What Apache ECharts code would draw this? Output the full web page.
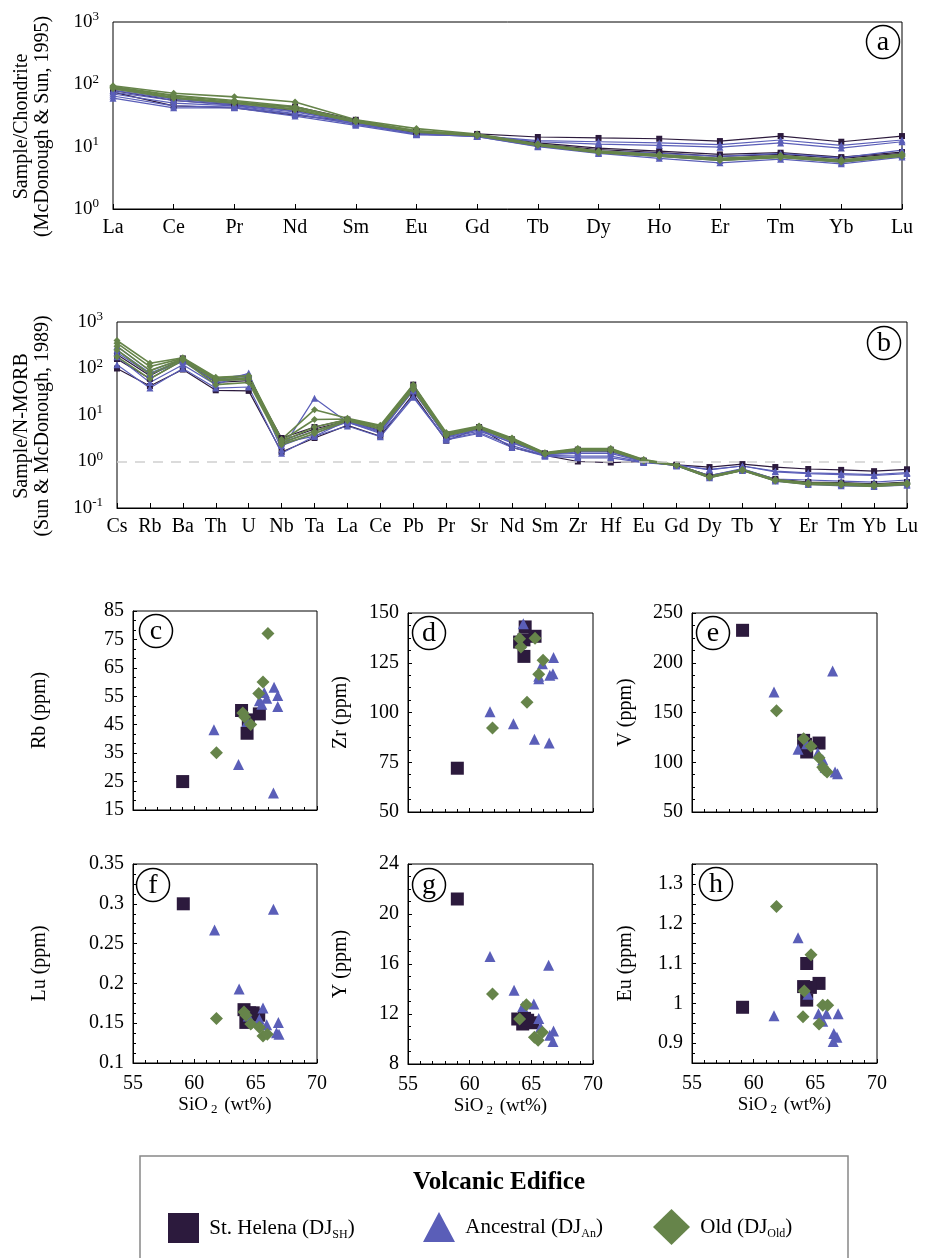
<!DOCTYPE html>
<html>
<head>
<meta charset="utf-8">
<script src="https://cdn.jsdelivr.net/npm/echarts@6/dist/echarts.min.js"></script>
<style>
  html, body { margin: 0; padding: 0; background: #fff; }
  #chart { width: 930px; height: 1258px; }
</style>
</head>
<body>
<div id="chart"></div>
<script>
// ---------- data ----------
const reeCats = ["La", "Ce", "Pr", "Nd", "Sm", "Eu", "Gd", "Tb", "Dy", "Ho", "Er", "Tm", "Yb", "Lu"];
const morbCats = ["Cs", "Rb", "Ba", "Th", "U", "Nb", "Ta", "La", "Ce", "Pb", "Pr", "Sr", "Nd", "Sm",
  "Zr", "Hf", "Eu", "Gd", "Dy", "Tb", "Y", "Er", "Tm", "Yb", "Lu"];

// chondrite normalised REE (panel a)
const reeSH = [
  [75, 45, 42, 32, 25, 17, 16, 14.3, 13.8, 13.4, 12.3, 14.8, 12, 14.8],
  [85, 60, 50, 44, 27, 17.5, 15.5, 11.5, 9.5, 8.5, 7.5, 8, 6.8, 8.2],
  [80, 55, 47, 38, 25, 16.5, 15, 11, 9, 8, 7, 7.5, 6.5, 7.8]
];
const reeAn = [
  [60, 42, 42, 31, 22, 15.5, 15, 12.5, 12, 11.5, 10.8, 12.8, 10.5, 12.8],
  [65, 45, 43, 33, 23, 16, 15, 12, 11, 10.5, 9.8, 11.5, 9.5, 12],
  [70, 50, 45, 34, 23, 16, 15, 10.5, 8.5, 7.8, 7, 7.8, 6.6, 8.8],
  [80, 58, 48, 37, 24, 16, 14.5, 10, 7.8, 6.5, 5.5, 6.3, 5.3, 6.8],
  [75, 55, 46, 36, 24, 16, 14.5, 10.2, 8, 7, 6, 6.8, 5.6, 7.2]
];
const reeOld = [
  [95, 72, 63, 52, 27, 19.5, 16, 11, 8.5, 7.5, 6.5, 7.2, 6, 7.5],
  [90, 65, 53, 42, 26, 18, 15.5, 10.8, 8.3, 7.3, 6.3, 7, 5.9, 7.3],
  [88, 62, 51, 40, 25, 17.5, 15.2, 10.6, 8.1, 7.1, 6.1, 6.8, 5.8, 7.1],
  [85, 60, 50, 39, 25, 17, 15, 10.5, 8, 7, 6, 6.7, 5.7, 7],
  [92, 67, 55, 44, 26, 18, 15.5, 10.9, 8.4, 7.4, 6.4, 7.1, 6.1, 7.6]
];

// N-MORB normalised trace elements (panel b)
const morbSH = [
  [100, 42, 95, 34, 33, 1.6, 3.2, 6, 3.5, 28, 2.8, 5.2, 2.0, 1.35, 1.0, 0.95, 1.0, 0.85, 0.76, 0.88, 0.76, 0.69, 0.66, 0.62, 0.68],
  [200, 70, 165, 55, 60, 3.2, 5.5, 8, 5, 45, 3.8, 5.5, 3, 1.5, 1.8, 1.8, 1.05, 0.85, 0.5, 0.68, 0.42, 0.36, 0.35, 0.33, 0.36],
  [160, 60, 150, 50, 55, 2.8, 5, 7.5, 4.6, 38, 3.5, 5.3, 2.8, 1.45, 1.7, 1.65, 1.0, 0.83, 0.48, 0.66, 0.4, 0.35, 0.34, 0.32, 0.35]
];
const morbAn = [
  [120, 38, 100, 38, 40, 1.5, 3.5, 5.8, 3.4, 24, 2.9, 4.0, 2.0, 1.3, 1.2, 1.2, 0.95, 0.83, 0.68, 0.8, 0.62, 0.57, 0.55, 0.52, 0.58],
  [180, 50, 120, 45, 80, 1.8, 23, 7, 4, 25, 3.0, 4.2, 2.2, 1.35, 1.3, 1.3, 0.97, 0.85, 0.66, 0.8, 0.6, 0.55, 0.52, 0.5, 0.55],
  [250, 80, 150, 60, 75, 2.2, 4, 7, 4.2, 35, 3.2, 4.5, 2.6, 1.4, 1.6, 1.6, 1.0, 0.84, 0.5, 0.7, 0.42, 0.4, 0.38, 0.36, 0.4],
  [300, 90, 160, 58, 70, 2.5, 3.5, 7.5, 4.5, 40, 3.3, 5.0, 2.7, 1.45, 1.7, 1.7, 1.02, 0.8, 0.45, 0.64, 0.38, 0.32, 0.3, 0.29, 0.31],
  [220, 75, 140, 52, 65, 2.6, 4.5, 7.2, 4.4, 33, 3.4, 4.8, 2.5, 1.4, 1.5, 1.5, 0.98, 0.82, 0.47, 0.66, 0.4, 0.34, 0.32, 0.31, 0.33]
];
const morbOld = [
  [400, 130, 170, 65, 70, 3.0, 13, 8.5, 6, 45, 4.2, 5.8, 3.2, 1.55, 1.9, 1.9, 1.1, 0.85, 0.48, 0.67, 0.41, 0.35, 0.34, 0.32, 0.35],
  [350, 110, 165, 62, 68, 2.8, 8, 8.2, 5.8, 42, 4.0, 5.6, 3.1, 1.5, 1.85, 1.85, 1.08, 0.84, 0.47, 0.66, 0.4, 0.34, 0.33, 0.31, 0.34],
  [300, 90, 160, 58, 62, 2.7, 5.5, 8, 5.5, 40, 3.9, 5.5, 3.0, 1.5, 1.8, 1.8, 1.05, 0.83, 0.46, 0.65, 0.39, 0.33, 0.32, 0.30, 0.33],
  [250, 75, 155, 55, 58, 2.5, 4.5, 7.8, 5.2, 38, 3.8, 5.4, 2.9, 1.45, 1.75, 1.75, 1.05, 0.83, 0.46, 0.65, 0.39, 0.33, 0.32, 0.30, 0.33],
  [180, 60, 150, 45, 50, 2.3, 4, 7.5, 5, 35, 3.6, 5.2, 2.8, 1.45, 1.7, 1.7, 1.02, 0.82, 0.45, 0.64, 0.38, 0.32, 0.31, 0.29, 0.32]
];

// SiO2 (wt%) vs element (ppm), panels c-h
const rbSH = [[59.05, 25], [63.85, 50], [64.3, 42], [65.3, 48.8], [64.4, 46.7]];
const rbAn = [[61.6, 43.2], [63.6, 31], [66.45, 21], [66.5, 58.2], [66.8, 55.3], [66.8, 51.4],
  [65.3, 53.4], [65.7, 56.3], [65.9, 54.3], [65.5, 52.2], [64.3, 46.1]];
const rbOld = [[66, 77.1], [65.6, 60], [65.25, 56], [63.95, 49.1], [64.1, 47.7], [64.6, 45.1], [61.8, 35.1]];

const zrSH = [[59, 72], [64.5, 143], [64.05, 135.4], [65.3, 138.3], [64.4, 128.2], [64.4, 136.5]];
const zrAn = [[64.35, 144.6], [61.65, 100.4], [63.55, 94.4], [65.25, 86.5], [66.45, 84.7], [66.8, 127.6],
  [66.75, 119.5], [66.5, 118.7], [65.9, 124.5], [65.6, 117], [65.6, 118.2]];
const zrOld = [[64.05, 137.1], [64.15, 132.9], [65.3, 137.3], [65.95, 126.2], [65.6, 119.2], [64.65, 105.1], [61.85, 92.2]];

const vSH = [[59.1, 232.6], [64.05, 122], [64.3, 110.3], [65.3, 119.3], [64.2, 118]];
const vAn = [[61.65, 170.6], [66.4, 191.7], [63.6, 113], [65.2, 109.3], [65.6, 102.6], [66.6, 90.2],
  [66.8, 88.5], [65.8, 95], [64.3, 118.5]];
const vOld = [[61.85, 151.8], [64.05, 123.5], [64.65, 116.2], [65.3, 104.4], [65.6, 95], [65.95, 90.2], [65.75, 92.5]];

const luSH = [[59.1, 0.300], [64.05, 0.167], [64.5, 0.163], [65.25, 0.160], [64.2, 0.151], [64.8, 0.163]];
const luAn = [[61.65, 0.267], [66.45, 0.293], [63.65, 0.193], [65.6, 0.169], [65.9, 0.148], [66.85, 0.151],
  [66.7, 0.138], [66.9, 0.136], [64.4, 0.159], [65.3, 0.155]];
const luOld = [[61.8, 0.156], [64.05, 0.164], [64.2, 0.160], [64.6, 0.149], [65.3, 0.145], [65.6, 0.134], [65.95, 0.136]];

const ySH = [[59, 21.2], [63.9, 11.6], [64.45, 11.65], [64.3, 11.2], [65.1, 11.3], [64.7, 11.5]];
const yAn = [[61.65, 16.6], [66.4, 15.9], [63.6, 13.9], [65.2, 12.8], [64.3, 12.6], [65.6, 11.65],
  [65.75, 10.95], [66.8, 10.65], [66.5, 10.3], [66.75, 9.8]];
const yOld = [[61.85, 13.6], [64.6, 12.75], [64.05, 11.6], [65.9, 10.55], [65.25, 10.15], [65.55, 9.9]];

const euSH = [[59.1, 0.99], [64.3, 1.10], [65.3, 1.05], [64.05, 1.042], [64.6, 1.04], [64.3, 1.008]];
const euAn = [[61.65, 0.969], [63.6, 1.165], [64.4, 1.023], [65.25, 0.974], [65.9, 0.974], [66.85, 0.974],
  [65.6, 0.955], [66.5, 0.924], [66.75, 0.915], [66.45, 0.904]];
const euOld = [[61.85, 1.243], [64.65, 1.122], [64.1, 1.031], [64.0, 0.966], [65.6, 0.995], [66.0, 0.995], [65.3, 0.948]];

// ---------- styling ----------
const font = "Liberation Serif";
const colSH = "#2c1a3d";
const colAn = "#5a5eb8";
const colOld = "#66844a";
const black = "#000";

let myChart = echarts.init(document.getElementById("chart"));

// fixed plot boxes: outerBoundsMode none so labels never shrink the grids
let grids = [
  { left: 113, top: 22, width: 789, height: 187 },   // a
  { left: 117, top: 322, width: 790, height: 186 },  // b
  { left: 133, top: 611, width: 184, height: 199 },  // c
  { left: 408, top: 613, width: 185, height: 199 },  // d
  { left: 692, top: 613, width: 185, height: 199 },  // e
  { left: 133, top: 864, width: 184, height: 199 },  // f
  { left: 408, top: 864, width: 185, height: 200 },  // g
  { left: 692, top: 864, width: 185, height: 199 }   // h
].map(g => Object.assign({
  show: true, borderColor: black, borderWidth: 1, containLabel: false, outerBoundsMode: "none"
}, g));

const lineSty = { lineStyle: { color: black, width: 1 } };

function catAxis(gi, cats) {
  return {
    type: "category", gridIndex: gi, data: cats, boundaryGap: false,
    axisLine: lineSty, axisTick: { inside: true, length: 5, lineStyle: { color: black } },
    axisLabel: { color: black, fontFamily: font, fontSize: 20, margin: 9, interval: 0 }
  };
}

// padding on the right of the rotated name pushes it down, like the original
function logAxis(gi, min, max, name, gap) {
  return {
    type: "log", logBase: 10, gridIndex: gi, min: min, max: max,
    name: name, nameLocation: "middle", nameGap: gap, nameRotate: 90,
    nameTextStyle: { color: black, fontFamily: font, fontSize: 20, lineHeight: 21, padding: [0, 22, 0, 0] },
    axisLine: lineSty, axisTick: { inside: true, length: 5, lineStyle: { color: black } },
    splitLine: { show: false },
    axisLabel: {
      color: black, margin: 14,
      formatter: v => "{b|10}{s|" + Math.round(Math.log10(v)) + "}",
      rich: {
        b: { fontFamily: font, fontSize: 19, lineHeight: 23 },
        s: { fontFamily: font, fontSize: 13, lineHeight: 13, verticalAlign: "top" }
      }
    }
  };
}

function siAxis(gi, withLabels) {
  let ax = {
    type: "value", gridIndex: gi, min: 55, max: 70, interval: 5,
    axisLine: lineSty, axisTick: { inside: true, length: 4, lineStyle: { color: black } },
    minorTick: { show: true, splitNumber: 5, length: 3, lineStyle: { color: black } },
    splitLine: { show: false },
    axisLabel: { show: withLabels, color: black, fontFamily: font, fontSize: 20, margin: 11 }
  };
  if (withLabels) {
    ax.name = "{a|SiO}{s|2}{a| (wt%)}";
    ax.nameLocation = "middle";
    ax.nameGap = 31;
    ax.nameTextStyle = {
      rich: {
        a: { fontFamily: font, fontSize: 19, color: black, lineHeight: 22 },
        s: { fontFamily: font, fontSize: 13, color: black, lineHeight: 13, verticalAlign: "bottom", padding: [0, 2, 0, 3] }
      }
    };
  }
  return ax;
}

function ppmAxis(gi, min, max, interval, split, name, gap, fmt) {
  return {
    type: "value", gridIndex: gi, min: min, max: max, interval: interval,
    name: name, nameLocation: "middle", nameGap: gap, nameRotate: 90,
    nameTextStyle: { color: black, fontFamily: font, fontSize: 20 },
    axisLine: lineSty, axisTick: { inside: true, length: 4, lineStyle: { color: black } },
    minorTick: { show: true, splitNumber: split, length: 3, lineStyle: { color: black } },
    splitLine: { show: false },
    axisLabel: { color: black, fontFamily: font, fontSize: 20, margin: 9, formatter: fmt }
  };
}

// every other label for the Eu axis (min is not a multiple of 0.1)
const euFmt = v => {
  let t = Math.round(v * 100);
  return t % 10 === 0 ? String(t / 100) : "";
};

let xAxes = [
  catAxis(0, reeCats),
  catAxis(1, morbCats),
  siAxis(2, false), siAxis(3, false), siAxis(4, false),
  siAxis(5, true), siAxis(6, true), siAxis(7, true)
];
let yAxes = [
  logAxis(0, 1, 1000, "Sample/Chondrite\n(McDonough & Sun, 1995)", 60),
  logAxis(1, 0.1, 1000, "Sample/N-MORB\n(Sun & McDonough, 1989)", 64),
  ppmAxis(2, 15, 85, 10, 3, "Rb (ppm)", 83),
  ppmAxis(3, 50, 150, 25, 4, "Zr (ppm)", 57),
  ppmAxis(4, 50, 250, 50, 4, "V (ppm)", 56),
  ppmAxis(5, 0.1, 0.35, 0.05, 4, "Lu (ppm)", 83),
  ppmAxis(6, 8, 24, 4, 4, "Y (ppm)", 57),
  ppmAxis(7, 0.85, 1.35, 0.05, 2, "Eu (ppm)", 56, euFmt)
];

let series = [];

const groups = [
  { key: "SH", name: "St. Helena", color: colSH, symbol: "rect", lineSize: 6, size: 13 },
  { key: "An", name: "Ancestral", color: colAn, symbol: "triangle", lineSize: 7, size: 11 },
  { key: "Old", name: "Old", color: colOld, symbol: "diamond", lineSize: 7, size: 13 }
];
const reeData = { SH: reeSH, An: reeAn, Old: reeOld };
const morbData = { SH: morbSH, An: morbAn, Old: morbOld };

function spiderLines(gi, dataSet) {
  groups.forEach(g => {
    dataSet[g.key].forEach((row, i) => {
      series.push({
        name: g.key + "-" + gi + "-" + i, type: "line",
        xAxisIndex: gi, yAxisIndex: gi, data: row,
        symbol: g.symbol, symbolSize: g.lineSize, showSymbol: true,
        lineStyle: { color: g.color, width: g.key === "Old" ? 1.6 : 1.2 },
        itemStyle: { color: g.color },
        silent: true, animation: false
      });
    });
  });
}

spiderLines(0, reeData);
spiderLines(1, morbData);

// N-MORB = 1 reference line
series.push({
  name: "ref", type: "line", xAxisIndex: 1, yAxisIndex: 1, data: [],
  silent: true,
  markLine: {
    symbol: "none", silent: true, label: { show: false },
    lineStyle: { color: "#cfcfcf", type: [10, 8], width: 1.5 },
    data: [{ yAxis: 1 }]
  },
  z: 1
});

const scatterSets = [
  [rbSH, rbAn, rbOld],
  [zrSH, zrAn, zrOld],
  [vSH, vAn, vOld],
  [luSH, luAn, luOld],
  [ySH, yAn, yOld],
  [euSH, euAn, euOld]
];

scatterSets.forEach((sets, k) => {
  let gi = k + 2;
  groups.forEach((g, j) => {
    series.push({
      name: g.name, type: "scatter", xAxisIndex: gi, yAxisIndex: gi,
      data: sets[j], symbol: g.symbol, symbolSize: g.size,
      itemStyle: { color: g.color, opacity: 1 },
      animation: false
    });
  });
});

// circled panel letters
function badge(x, y, letter) {
  return {
    type: "group", x: x, y: y, z: 100,
    children: [
      { type: "circle", shape: { cx: 0, cy: 0, r: 16.5 }, style: { fill: "#fff", stroke: black, lineWidth: 1.5 } },
      { type: "text", x: 0, y: 1, style: { text: letter, font: "28px " + font, fill: black, align: "center", verticalAlign: "middle" } }
    ]
  };
}

const legendText = {
  color: black,
  rich: {
    n: { fontFamily: font, fontSize: 21, color: black, lineHeight: 26 },
    s: { fontFamily: font, fontSize: 12, color: black, lineHeight: 12, verticalAlign: "bottom" }
  }
};

let option = {
  animation: false,
  backgroundColor: "#fff",
  title: {
    text: "Volcanic Edifice", left: 494, top: 1165, textAlign: "center",
    textStyle: { fontFamily: font, fontSize: 25, fontWeight: "bold", color: black }
  },
  legend: [
    {
      data: ["St. Helena"], left: 168, top: 1213, padding: 0, selectedMode: false,
      icon: "rect", itemWidth: 31, itemHeight: 30, textStyle: legendText,
      formatter: () => "{n| St. Helena (DJ}{s|SH}{n|)}"
    },
    {
      data: ["Ancestral"], left: 423, top: 1212, padding: 0, selectedMode: false,
      icon: "triangle", itemWidth: 32, itemHeight: 30, textStyle: legendText,
      formatter: () => "{n| Ancestral (DJ}{s|An}{n|)}"
    },
    {
      data: ["Old"], left: 653, top: 1209, padding: 0, selectedMode: false,
      icon: "diamond", itemWidth: 37, itemHeight: 36, textStyle: legendText,
      formatter: () => "{n| Old (DJ}{s|Old}{n|)}"
    }
  ],
  grid: grids,
  xAxis: xAxes,
  yAxis: yAxes,
  series: series,
  graphic: [
    { type: "rect", shape: { x: 140, y: 1156, width: 708, height: 130 }, style: { fill: "none", stroke: "#888", lineWidth: 1.5 } },
    badge(883, 42, "a"),
    badge(884, 343, "b"),
    badge(156, 631, "c"),
    badge(429, 633, "d"),
    badge(713, 633, "e"),
    badge(153, 885, "f"),
    badge(429, 885, "g"),
    badge(716, 884, "h")
  ]
};

myChart.setOption(option);
</script>
</body>
</html>
